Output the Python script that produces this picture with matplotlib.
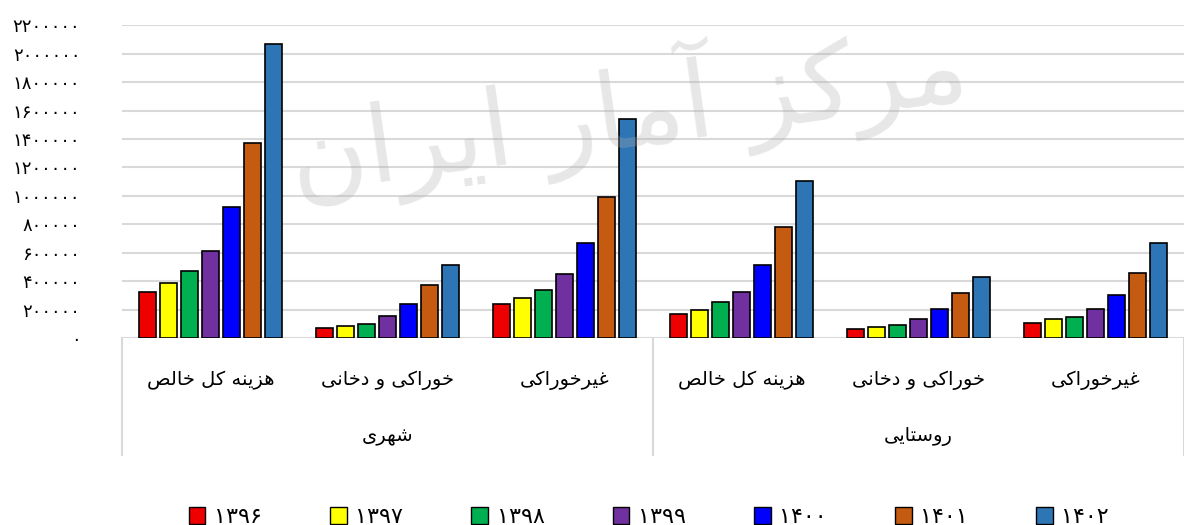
import matplotlib
matplotlib.use('Agg')
import matplotlib.pyplot as plt
from matplotlib.patches import Patch
import numpy as np

# data
years = ['1396', '1397', '1398', '1399', '1400', '1401', '1402']
colors = ['#ee0000', '#ffff00', '#00b050', '#7030a0', '#0000ff', '#c55a11', '#2e75b6']
categories = ['هزینه کل خالص', 'خوراکی و دخانی', 'غیرخوراکی',
              'هزینه کل خالص', 'خوراکی و دخانی', 'غیرخوراکی']
groups = ['شهری', 'روستایی']

v1396 = [327000, 73000, 242000, 172000, 66000, 108000]
v1397 = [384000, 87000, 285000, 200000, 80000, 136000]
v1398 = [469000, 101000, 341000, 257000, 94000, 150000]
v1399 = [610000, 158000, 454000, 327000, 136000, 207000]
v1400 = [921000, 242000, 666000, 511000, 207000, 306000]
v1401 = [1373000, 370000, 991000, 779000, 320000, 461000]
v1402 = [2066000, 511000, 1543000, 1104000, 433000, 672000]
series = [v1396, v1397, v1398, v1399, v1400, v1401, v1402]

yticks = list(range(0, 2200001, 200000))

# matplotlib has no arabic shaping, so do a small one by hand
FORMS = {
    'ا': ('\uFE8D', '\uFE8E'), 'آ': ('\uFE81', '\uFE82'),
    'د': ('\uFEA9', '\uFEAA'), 'ر': ('\uFEAD', '\uFEAE'),
    'ز': ('\uFEAF', '\uFEB0'), 'و': ('\uFEED', '\uFEEE'),
    'ت': ('\uFE95', '\uFE96', '\uFE97', '\uFE98'),
    'خ': ('\uFEA5', '\uFEA6', '\uFEA7', '\uFEA8'),
    'س': ('\uFEB1', '\uFEB2', '\uFEB3', '\uFEB4'),
    'ش': ('\uFEB5', '\uFEB6', '\uFEB7', '\uFEB8'),
    'ص': ('\uFEB9', '\uFEBA', '\uFEBB', '\uFEBC'),
    'غ': ('\uFECD', '\uFECE', '\uFECF', '\uFED0'),
    'ل': ('\uFEDD', '\uFEDE', '\uFEDF', '\uFEE0'),
    'م': ('\uFEE1', '\uFEE2', '\uFEE3', '\uFEE4'),
    'ن': ('\uFEE5', '\uFEE6', '\uFEE7', '\uFEE8'),
    'ه': ('\uFEE9', '\uFEEA', '\uFEEB', '\uFEEC'),
    'ک': ('\uFB8E', '\uFB8F', '\uFB90', '\uFB91'),
    'ی': ('\uFBFC', '\uFBFD', '\uFBFE', '\uFBFF'),
}


def fa(s):
    out = []
    for i, c in enumerate(s):
        if c not in FORMS:
            out.append(c)
            continue
        prev = s[i - 1] if i > 0 else None
        nxt = s[i + 1] if i + 1 < len(s) else None
        jp = prev in FORMS and len(FORMS[prev]) == 4
        jn = nxt in FORMS and len(FORMS[c]) == 4
        f = FORMS[c]
        if len(f) == 2:
            out.append(f[1] if jp else f[0])
        else:
            if jp and jn:
                out.append(f[3])
            elif jp:
                out.append(f[1])
            elif jn:
                out.append(f[2])
            else:
                out.append(f[0])
    return ''.join(reversed(out))


def fa_num(n):
    return str(n).translate(str.maketrans('0123456789', '۰۱۲۳۴۵۶۷۸۹'))


plt.rcParams['font.family'] = ['DejaVu Sans']

fig = plt.figure(figsize=(11.84, 5.25), dpi=100)
ax = fig.add_axes([0.103, 0.356, 0.897, 0.596])

x = np.arange(len(categories))
pitch = 0.119
width = 0.094
for i, vals in enumerate(series):
    ax.bar(x + (i - 3) * pitch, vals, width, color=colors[i],
           edgecolor='black', linewidth=1.2, zorder=3)

ax.set_ylim(0, 2200000)
ax.set_xlim(-0.5, 5.5)
ax.set_yticks(yticks)
ax.set_yticklabels([fa_num(t) for t in yticks], fontsize=13)
ax.tick_params(axis='y', length=0, pad=30)
ax.set_xticks([])
ax.grid(axis='y', color='#d9d9d9', linewidth=1.5, zorder=0)
for s in ax.spines.values():
    s.set_visible(False)

tr = ax.get_xaxis_transform()
for i, c in enumerate(categories):
    ax.text(x[i], -0.134, fa(c), transform=tr, ha='center', va='center', fontsize=14)
for g, name in enumerate(groups):
    ax.text(1 + 3 * g, -0.316, fa(name), transform=tr, ha='center', va='center', fontsize=14)
for xv in [-0.5, 2.5, 5.5]:
    ax.plot([xv, xv], [0, -0.374], transform=tr, color='#d9d9d9',
            linewidth=1.5, clip_on=False)

# watermark
fig.text(0.53, 0.79, fa('مرکز آمار ایران'), fontsize=76, color='#b0b0b0',
         alpha=0.3, rotation=8, ha='center', va='center', zorder=10)

handles = [Patch(facecolor=colors[i], edgecolor='black', linewidth=1.0) for i in range(len(years))]
fig.legend(handles, [fa_num(y) for y in years], loc='center',
           bbox_to_anchor=(0.548, 0.015), ncol=7, frameon=False, fontsize=16,
           handlelength=0.75, handleheight=0.75, handletextpad=0.4,
           columnspacing=3.05)

fig.savefig('out.png', dpi=100)
